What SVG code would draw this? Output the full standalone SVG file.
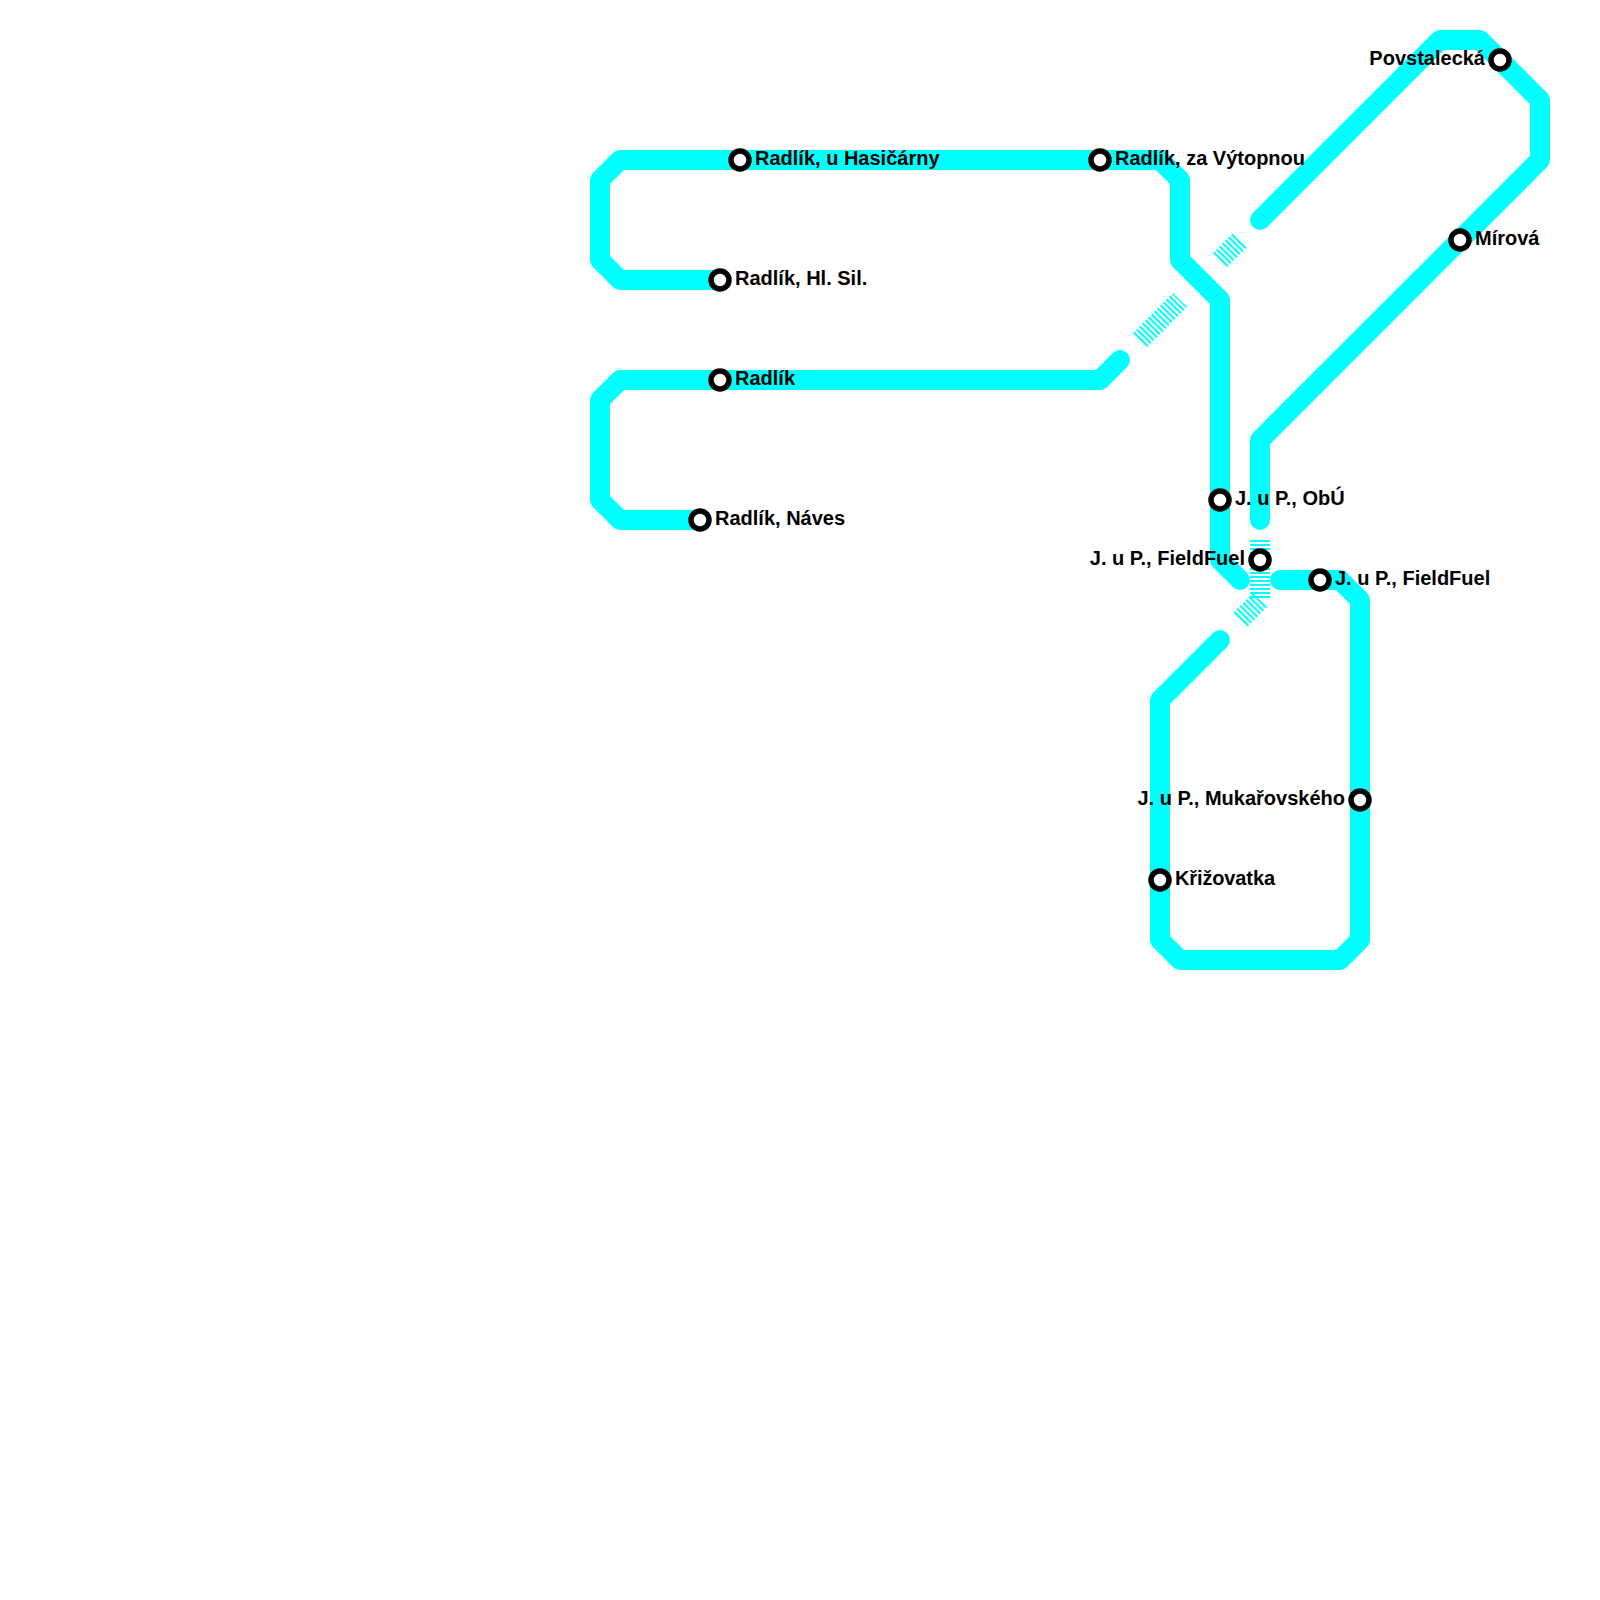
<svg xmlns="http://www.w3.org/2000/svg" width="1600" height="1600" viewBox="0 0 1600 1600">
<style>
.ln{fill:none;stroke:#00ffff;stroke-width:20;stroke-linecap:round;stroke-linejoin:round}
.tn{fill:none;stroke:#00ffff;stroke-width:20;stroke-dasharray:2 2}
.td{fill:none;stroke:#00ffff;stroke-width:20;stroke-dasharray:2.12 2.12}
.st{fill:#fff;stroke:#000;stroke-width:5.5}
text{font-family:"Liberation Sans",Arial,sans-serif;font-weight:bold;font-size:20px;fill:#000}
.e{text-anchor:end}
</style>
<rect width="1600" height="1600" fill="#fff"/>
<g id="connectors">
<path class="ln" d="M720 280H620L600 260V180L620 160H1160L1180 180V260L1220 300V560L1240 580"/>
<path class="ln" d="M700 520H620L600 500V400L620 380H1100L1120 360"/>
<path class="ln" d="M1260 220L1440 40H1480L1540 100V160L1260 440V520"/>
<path class="ln" d="M1280 580H1340L1360 600V940L1340 960H1180L1160 940V700L1220 640"/>
<path class="td" d="M1140 340L1180 300"/>
<path class="td" d="M1220 260L1240 240"/>
<path class="tn" d="M1260 540V600"/>
<path class="td" d="M1260 600L1240 620"/>
</g>
<g id="s1"><circle class="st" cx="740" cy="160" r="9"/><text x="755" y="165">Radlík, u Hasičárny</text></g>
<g id="s2"><circle class="st" cx="1100" cy="160" r="9"/><text x="1115" y="165">Radlík, za Výtopnou</text></g>
<g id="s3"><circle class="st" cx="720" cy="280" r="9"/><text x="735" y="285">Radlík, Hl. Sil.</text></g>
<g id="s4"><circle class="st" cx="720" cy="380" r="9"/><text x="735" y="385">Radlík</text></g>
<g id="s5"><circle class="st" cx="700" cy="520" r="9"/><text x="715" y="525">Radlík, Náves</text></g>
<g id="s6"><circle class="st" cx="1500" cy="60" r="9"/><text class="e" x="1485" y="65">Povstalecká</text></g>
<g id="s7"><circle class="st" cx="1460" cy="240" r="9"/><text x="1475" y="245">Mírová</text></g>
<g id="s8"><circle class="st" cx="1220" cy="500" r="9"/><text x="1235" y="505">J. u P., ObÚ</text></g>
<g id="s9"><circle class="st" cx="1260" cy="560" r="9"/><text class="e" x="1245" y="565">J. u P., FieldFuel</text></g>
<g id="s10"><circle class="st" cx="1320" cy="580" r="9"/><text x="1335" y="585">J. u P., FieldFuel</text></g>
<g id="s11"><circle class="st" cx="1360" cy="800" r="9"/><text class="e" x="1345" y="805">J. u P., Mukařovského</text></g>
<g id="s12"><circle class="st" cx="1160" cy="880" r="9"/><text x="1175" y="885" textLength="100">Křižovatka</text></g>
</svg>
